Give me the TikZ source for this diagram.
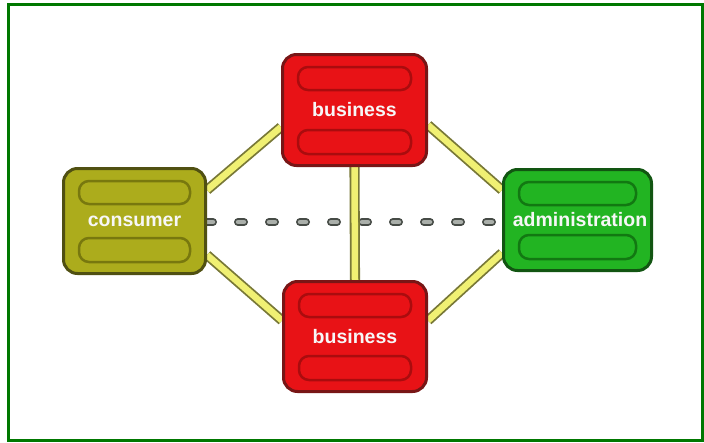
\documentclass[tikz,border=0pt]{standalone}
\usepackage{fontspec}
\setmainfont{Liberation Sans}
\usetikzlibrary{calc,backgrounds}
\definecolor{frameg}{RGB}{0,120,0}
\definecolor{redf}{RGB}{232,18,22}
\definecolor{rede}{RGB}{120,22,22}
\definecolor{redb}{RGB}{170,12,14}
\definecolor{olf}{RGB}{172,172,28}
\definecolor{ole}{RGB}{80,80,18}
\definecolor{olb}{RGB}{120,120,14}
\definecolor{grf}{RGB}{34,180,34}
\definecolor{gre}{RGB}{18,85,18}
\definecolor{grb}{RGB}{18,120,18}
\definecolor{yelf}{RGB}{240,240,115}
\definecolor{yele}{RGB}{120,120,55}
\definecolor{dashd}{RGB}{70,75,70}
\definecolor{dashl}{RGB}{170,175,170}
\newcommand\mybands[2]{%
  \draw[band, draw=#2] ($(#1.north west)+(17,14)$) rectangle ($(#1.north east)+(-17,37)$);
  \draw[band, draw=#2] ($(#1.south west)+(17,-37)$) rectangle ($(#1.south east)+(-17,-13)$);
}
\begin{document}
\begin{tikzpicture}[x=1pt,y=-1pt,
  box/.style={line width=3pt, rounded corners=14pt, inner sep=0pt,
    font=\bfseries\fontsize{19.5}{21}\selectfont, text=white!94!gray},
  band/.style={line width=2.5pt, rounded corners=10pt},
  conn/.style={draw=yele, double=yelf, line width=1.8pt, double distance=6.5pt},
  dashout/.style={draw=dashd, line width=8pt, line cap=round, dash pattern=on 6pt off 25pt},
  dashin/.style={draw=dashl, line width=4.5pt, line cap=round, dash pattern=on 6pt off 25pt}]
\useasboundingbox (0,0) rectangle (704,442);
\draw[frameg, line width=2.5pt] (8.5,4.5) rectangle (702.5,440.5);

\node[box, draw=rede, fill=redf, minimum width=144pt, minimum height=111pt] (b1) at (354.5,110) {business};
\node[box, draw=rede, fill=redf, minimum width=143pt, minimum height=110pt] (b2) at (355,336.5) {business};
\node[box, draw=ole, fill=olf, minimum width=142pt, minimum height=105pt] (cons) at (134.5,221) {consumer};
\node[box, draw=gre, fill=grf, minimum width=148pt, minimum height=101pt] (adm) at (577.5,220) {\hspace*{5pt}administration};

\mybands{b1}{redb}
\mybands{b2}{redb}
\mybands{cons}{olb}
\mybands{adm}{grb}

\begin{scope}[on background layer]
  \draw[dashout] ($(cons.east)+(0,1)$) -- ($(adm.west)+(0,2)$);
  \draw[dashin] ($(cons.east)+(0,1)$) -- ($(adm.west)+(0,2)$);
  \draw[conn] ($(cons.east)+(0,-31)$) -- ($(b1.west)+(0,17)$);
  \draw[conn] ($(cons.east)+(0,34)$) -- ($(b2.west)+(0,-16)$);
  \draw[conn] ($(b1.east)+(0,15)$) -- ($(adm.west)+(0,-30)$);
  \draw[conn] ($(b2.east)+(0,-16)$) -- ($(adm.west)+(0,33)$);
  \draw[conn] (b1.south) -- (b2.north);
\end{scope}
\end{tikzpicture}
\end{document}
